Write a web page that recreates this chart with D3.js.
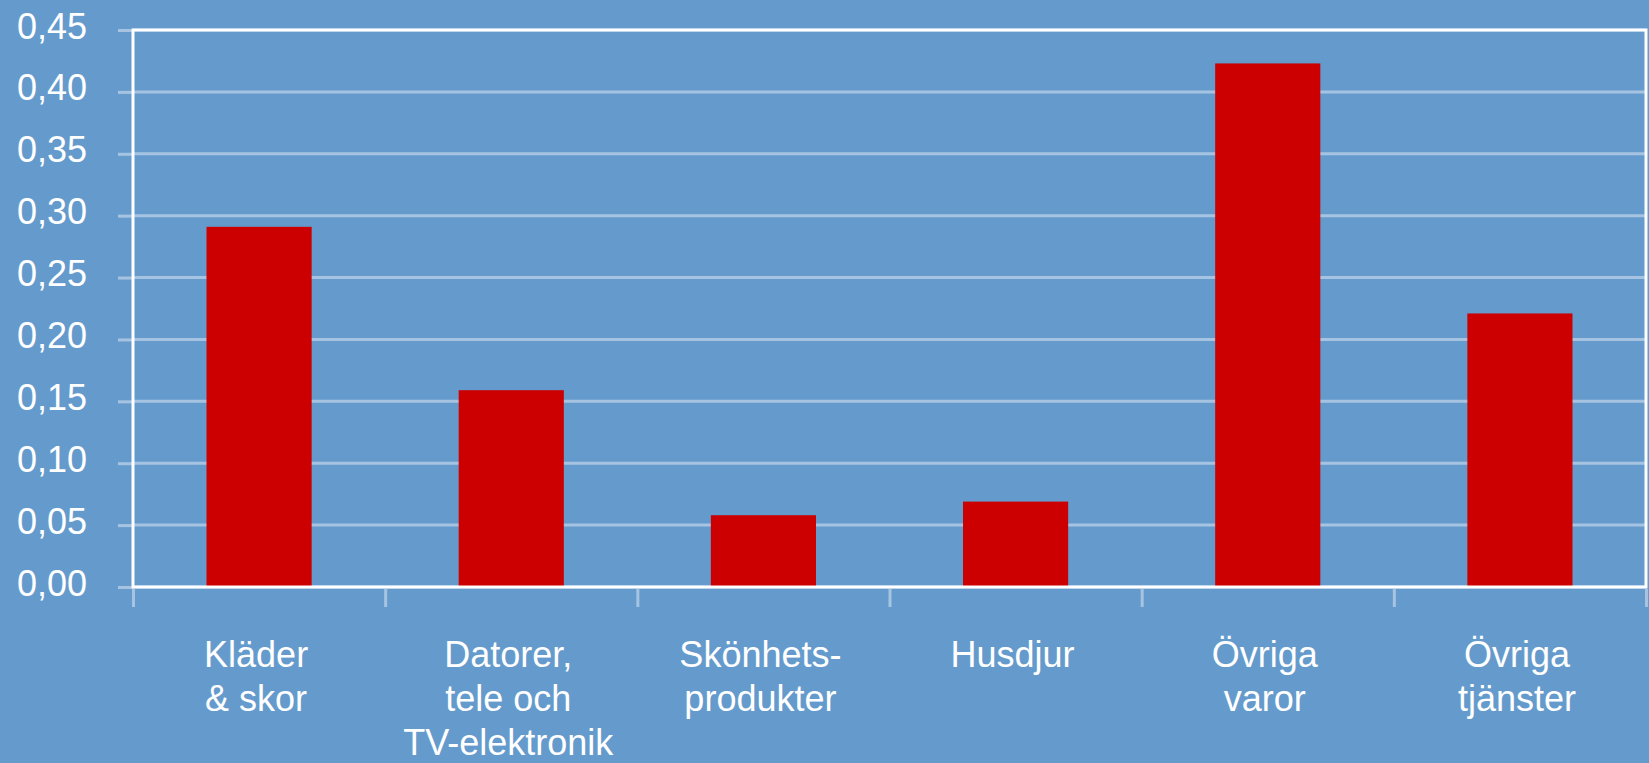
<!DOCTYPE html>
<html>
<head>
<meta charset="utf-8">
<script src="https://cdn.jsdelivr.net/npm/d3@7"></script>
<style>
  html, body { margin: 0; padding: 0; background: #659bcc; overflow: hidden; }
  text { font-family: "Liberation Sans", Arial, sans-serif; fill: #fff; }
</style>
</head>
<body>
<svg class="chart"></svg>
<script>
const categories = [
  ["Kläder", "& skor"],
  ["Datorer,", "tele och", "TV-elektronik"],
  ["Skönhets-", "produkter"],
  ["Husdjur"],
  ["Övriga", "varor"],
  ["Övriga", "tjänster"]
];
const values = [0.291, 0.159, 0.058, 0.069, 0.423, 0.221];
const yTicks = [0, 0.05, 0.10, 0.15, 0.20, 0.25, 0.30, 0.35, 0.40, 0.45];
const yTickLabels = ["0,00", "0,05", "0,10", "0,15", "0,20", "0,25", "0,30", "0,35", "0,40", "0,45"];

const width = 1649, height = 763;
const plotLeft = 133, plotRight = 1646, plotTop = 30, plotBottom = 587;

const svg = d3.select(".chart").attr("width", width).attr("height", height);

// scales
const x = d3.scaleBand().domain(d3.range(categories.length)).range([plotLeft, plotRight])
  .paddingInner(0.583).paddingOuter(0.2915);
const xEdge = d3.scaleLinear().domain([0, categories.length]).range([plotLeft, plotRight]);
const y = d3.scaleLinear().domain([0, 0.45]).range([plotBottom, plotTop]);

// gridlines
svg.append("g").selectAll("line").data(yTicks).join("line")
  .attr("x1", plotLeft).attr("x2", plotRight)
  .attr("y1", d => y(d)).attr("y2", d => y(d))
  .attr("stroke", "#a6c4e1").attr("stroke-width", 3);

// y axis labels + small outer ticks
const yAxis = svg.append("g").attr("transform", `translate(${plotLeft},0)`)
  .call(d3.axisLeft(y).tickValues(yTicks).tickFormat((d, i) => yTickLabels[i])
    .tickSize(15).tickPadding(31));
yAxis.select(".domain").remove();
yAxis.selectAll(".tick line").attr("stroke", "#a6c4e1").attr("stroke-width", 3);
yAxis.selectAll(".tick text").attr("dy", null).attr("y", 8)
  .style("font-size", "36px").style("font-family", "Liberation Sans, Arial, sans-serif").attr("fill", "#fff");

// x axis ticks at category boundaries
const xAxis = svg.append("g").attr("transform", `translate(0,${plotBottom + 2})`)
  .call(d3.axisBottom(xEdge).tickValues(d3.range(categories.length + 1)).tickSize(18).tickFormat(""));
xAxis.select(".domain").remove();
xAxis.selectAll(".tick line").attr("stroke", "#a6c4e1").attr("stroke-width", 3);

// bars
svg.append("g").selectAll("rect").data(values).join("rect")
  .attr("x", (d, i) => x(i))
  .attr("width", x.bandwidth())
  .attr("y", d => y(d))
  .attr("height", d => y(0) - y(d))
  .attr("fill", "#cc0000");

// plot border
svg.append("rect")
  .attr("x", plotLeft).attr("y", plotTop)
  .attr("width", plotRight - plotLeft).attr("height", plotBottom - plotTop)
  .attr("fill", "none").attr("stroke", "#fff").attr("stroke-width", 3);

// category labels
const labels = svg.append("g").selectAll("text").data(categories).join("text")
  .attr("text-anchor", "middle")
  .style("font-size", "36px")
  .attr("transform", (d, i) => `translate(${x(i) + x.bandwidth() / 2 - 3},667)`);
labels.selectAll("tspan").data(d => d).join("tspan")
  .attr("x", 0).attr("y", (d, i) => i * 44)
  .text(d => d);
</script>
</body>
</html>
